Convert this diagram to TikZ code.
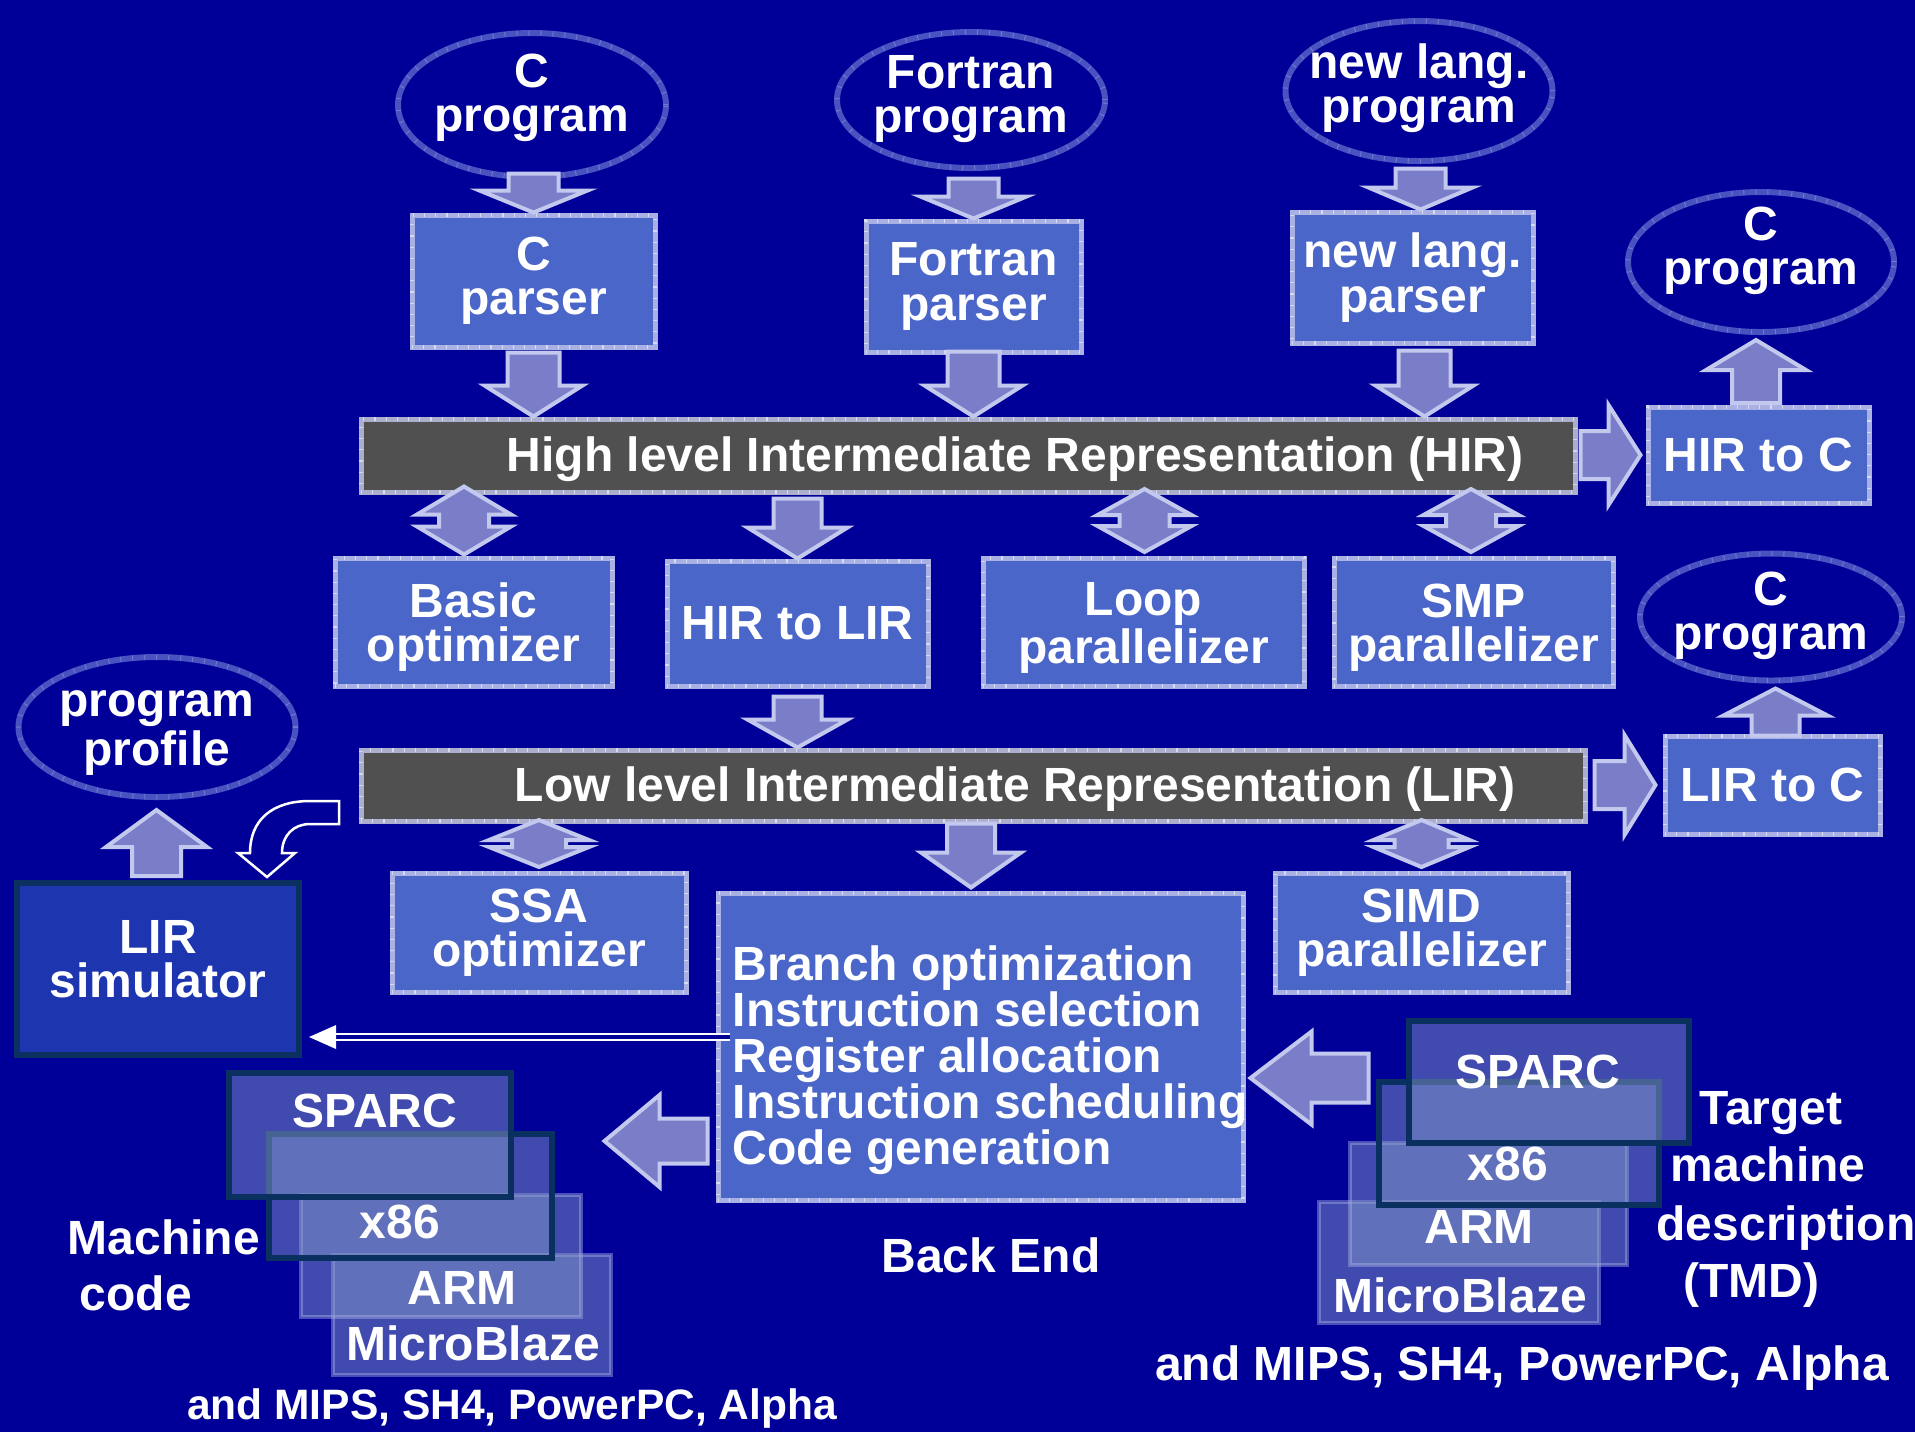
\documentclass[tikz,border=0pt]{standalone}
\usepackage{fontspec}
\setmainfont{Liberation Sans}
\usetikzlibrary{shapes.geometric,calc}

\definecolor{bg}{RGB}{0,0,152}
\definecolor{boxfill}{RGB}{75,102,201}
\definecolor{boxline}{RGB}{168,176,228}
\definecolor{arrfill}{RGB}{122,126,200}
\definecolor{arrline}{RGB}{195,200,238}
\definecolor{barfill}{RGB}{80,80,80}
\definecolor{barline}{RGB}{172,174,205}
\definecolor{ellline}{RGB}{72,82,192}
\definecolor{simfill}{RGB}{30,53,176}
\definecolor{darkedge}{RGB}{10,48,96}
\definecolor{stackfill}{RGB}{130,150,198}

\newcommand{\mainfs}{\fontsize{13.66pt}{12.6pt}\selectfont\bfseries}
\newcommand{\befs}{\fontsize{13.66pt}{13.1pt}\selectfont\bfseries}
\newcommand{\smallfs}{\fontsize{12.1pt}{12pt}\selectfont\bfseries}

\tikzset{
  every node/.style={text=white, font=\mainfs, inner sep=0pt},
  wh/.style 2 args={minimum width=#1*0.1mm, minimum height=#2*0.1mm},
  tex/.style={postaction={draw=white, draw opacity=0.55, line width=0.45mm, dash pattern=on 0.12mm off 1.0mm}},
  texe/.style={postaction={draw=white, draw opacity=0.22, line width=0.5mm, dash pattern=on 0.1mm off 1.1mm}},
  box/.style={draw=boxline, fill=boxfill, line width=0.5mm, align=center, tex},
  bar/.style={draw=barline, fill=barfill, line width=0.5mm, tex},
  ell/.style={ellipse, draw=ellline, fill=bg, line width=0.6mm, texe},
  lbl/.style={align=center, font=\mainfs, text=white},
  sim/.style={draw=darkedge, fill=simfill, line width=0.6mm},
  stkd/.style={draw=darkedge, fill=stackfill, fill opacity=0.5, draw opacity=1, line width=0.55mm},
  stkl/.style={draw=boxline, draw opacity=0.45, fill=stackfill, fill opacity=0.5, line width=0.35mm},
  blockarrow/.style={fill=arrfill, draw=arrline, line width=0.4mm, line join=miter}
}

% single block arrow: tip, angle, total length, head length, head half width, shaft half width
\newcommand{\blockarr}[6]{%
  \draw[blockarrow, shift={#1}, rotate=#2] (0,0) -- (-#4,#5) -- (-#4,#6) -- (-#3,#6) -- (-#3,-#6) -- (-#4,-#6) -- (-#4,-#5) -- cycle;}
% vertical double block arrow: centre, total length, head length, head half width, shaft half width
\newcommand{\dblarr}[5]{%
  \draw[blockarrow, shift={#1}] (0,{-#2/2}) -- (#4,{-#2/2+#3}) -- (#5,{-#2/2+#3}) -- (#5,{#2/2-#3}) -- (#4,{#2/2-#3}) -- (0,{#2/2}) -- (-#4,{#2/2-#3}) -- (-#5,{#2/2-#3}) -- (-#5,{-#2/2+#3}) -- (-#4,{-#2/2+#3}) -- cycle;}

\begin{document}
\begin{tikzpicture}[x=0.1mm,y=-0.1mm]

\useasboundingbox (0,0) rectangle (1915,1432);
\fill[bg] (0,0) rectangle (1915,1432);

% ellipses
\node[ell, wh={268}{144}, label={[lbl,yshift=0.7mm]center:C\\program}] (cprog) at (532,105) {};
\node[ell, wh={268}{136}, label={[lbl,yshift=0.1mm]center:Fortran\\program}] (fprog) at (971,100) {};
\node[ell, wh={267}{140}, label={[lbl,yshift=0.3mm]center:new lang.\\program}] (nprog) at (1419,91) {};
\node[ell, wh={266}{140}, label={[lbl,yshift=1.1mm]center:C\\program}] (cprogb) at (1761,262) {};
\node[ell, wh={262}{127}, label={[lbl,yshift=0.1mm]center:C\\program}] (cprogc) at (1771,617) {};
\node[ell, wh={277}{140}, label={[lbl,yshift=-0.6mm]center:program\\profile}] (prof) at (157,727) {};

% boxes
\node[box, wh={243}{132}] (cpar) at (533.5,281) {C\\parser};
\node[box, wh={215}{131}] (fpar) at (973.5,286.5) {Fortran\\parser};
\node[box, wh={241}{131}] (npar) at (1412.5,277.5) {new lang.\\parser};
\node[bar, wh={1214}{73}] (hir) at (968,455.5) {};
\node (hirt) at (1015,459.5) {High level Intermediate Representation (HIR)};
\node[box, wh={221}{96}] (hirc) at (1758.5,455) {HIR to C};
\node[box, wh={277}{128}, label={[lbl,yshift=-0.5mm]center:Basic\\optimizer}] (basic) at (473.5,622) {};
\node[box, wh={261}{125}] (hlir) at (797.5,623.5) {HIR to LIR};
\node[box, wh={321}{128}, label={[lbl,yshift=-0.6mm]center:Loop\\parallelizer}] (loop) at (1143.5,622) {};
\node[box, wh={279}{128}, label={[lbl,yshift=-0.6mm]center:SMP\\parallelizer}] (smp) at (1473.5,622) {};
\node[bar, wh={1224}{71}] (lir) at (973,785.5) {};
\node (lirt) at (1015,789.5) {Low level Intermediate Representation (LIR)};
\node[box, wh={215}{98}] (lirc) at (1772.5,785) {LIR to C};
\node[box, wh={294}{119}] (ssa) at (539,932.5) {SSA\\optimizer};
\node[box, wh={293}{119}] (simd) at (1421.5,932.5) {SIMD\\parallelizer};
\node[box, wh={525}{307}] (be) at (980.5,1046.5) {};
\node[anchor=north west, align=left, font=\befs] (bet) at (732,945) {Branch optimization\\Instruction selection\\Register allocation\\Instruction scheduling\\Code generation};
\node[sim, wh={282}{172}, label={[lbl,yshift=1mm]center:LIR\\simulator}] (lirsim) at (158,969) {};

% left machine code stack
\node[stkl, wh={278}{120}] (lmb) at (472,1315) {};
\node[stkl, wh={280}{122}] (larm) at (441,1256) {};
\node[stkd, wh={283}{124}] (lx86) at (410.5,1196) {};
\node[stkd, wh={282}{124}] (lsparc) at (370,1135) {};
\node[anchor=base] (lsparct) at (375,1127) {SPARC};
\node[anchor=base] (lx86t) at (400,1238) {x86};
\node[anchor=base] (larmt) at (462,1304) {ARM};
\node[anchor=base] (lmbt) at (473,1360) {MicroBlaze};

% right TMD stack
\node[stkl, wh={280}{121}] (rmb) at (1459,1262.5) {};
\node[stkl, wh={277}{122}] (rarm) at (1488.5,1204) {};
\node[stkd, wh={280}{123}] (rx86) at (1519,1143.5) {};
\node[stkd, wh={280}{122}] (rsparc) at (1549,1082) {};
\node[anchor=base] (rsparct) at (1538,1088) {SPARC};
\node[anchor=base] (rx86t) at (1508,1180) {x86};
\node[anchor=base] (rarmt) at (1479,1243) {ARM};
\node[anchor=base] (rmbt) at (1460,1312) {MicroBlaze};

% free texts
\node[anchor=base west] (mach1) at (67,1254) {Machine};
\node[anchor=base west] (mach2) at (79,1310) {code};
\node[anchor=base] (bend) at (991,1272) {Back End};
\node[anchor=base] (tmd1) at (1771,1124) {Target};
\node[anchor=base] (tmd2) at (1768,1181) {machine};
\node[anchor=base] (tmd3) at (1786,1240) {description};
\node[anchor=base] (tmd4) at (1751,1297) {(TMD)};
\node[anchor=base] (mipsr) at (1522,1380) {and MIPS, SH4, PowerPC, Alpha};
\node[anchor=base, font=\smallfs] (mipsl) at (512,1419) {and MIPS, SH4, PowerPC, Alpha};

% block arrows
\blockarr{(cpar.north)}{-90}{39}{22}{54}{25}
\blockarr{(fpar.north)}{-90}{40}{22}{53}{25}
\blockarr{($(npar.north)+(8,0)$)}{-90}{41}{22}{52}{25}
\blockarr{(hir.north -| cpar)}{-90}{64}{31}{49}{26}
\blockarr{(hir.north -| fpar)}{-90}{65}{31}{49}{26}
\blockarr{($(hir.north -| npar)+(12,0)$)}{-90}{66}{31}{49}{26}
\blockarr{($(hirc.west)+(-5,0)$)}{0}{60}{32}{50}{24}
\blockarr{($(cprogb.south)+(-5,5)$)}{90}{63}{30}{50}{24}
\dblarr{($(basic.north)+(-9.5,-35)$)}{68}{28}{47}{25}
\blockarr{(hlir.north)}{-90}{60}{31}{50}{24}
\dblarr{($(loop.north)+(1,-35)$)}{63}{26}{47}{25}
\dblarr{($(smp.north)+(-2.5,-35)$)}{63}{26}{47.5}{25}
\blockarr{(lir.north -| hlir)}{-90}{51}{28}{50}{24}
\blockarr{($(lirc.west)+(-7,0)$)}{0}{61}{31}{50}{24}
\blockarr{($(cprogc.south)+(4.5,5)$)}{90}{47}{27}{52}{24}
\dblarr{($(ssa.north)+(0,-27)$)}{47}{20}{50}{27}
\blockarr{($(be.north)+(-9.5,-3)$)}{-90}{64}{35}{50}{24}
\dblarr{($(simd.north)+(0,-27)$)}{47}{20}{48}{27}
\blockarr{($(be.east)+(5,31.5)$)}{180}{118}{61}{46.5}{24.5}
\blockarr{($(be.west)+(-111,94.5)$)}{180}{103}{55}{46}{22.5}
\blockarr{($(prof.south)+(-0.5,10)$)}{90}{66}{37}{50.5}{24.5}

% hollow curved arrow
\draw[white, line width=0.25mm, line join=miter] (339,801) -- (310,801) .. controls (272,801) and (250,820) .. (250,853) -- (238,853) -- (267,877) -- (295,853) -- (282,853) .. controls (282,835) and (294,824) .. (310,824) -- (339,824) -- cycle;

% double line arrow back end -> LIR simulator
\coordinate (dls) at (730,1037);
\draw[white, line width=0.22mm, double=bg, double distance=0.45mm] (dls) -- ($(lirsim.east |- dls)+(30,0)$);
\fill[white] ($(lirsim.east |- dls)+(7,0)$) -- ++(27,-12) -- ++(0,24) -- cycle;
\end{tikzpicture}
\end{document}
